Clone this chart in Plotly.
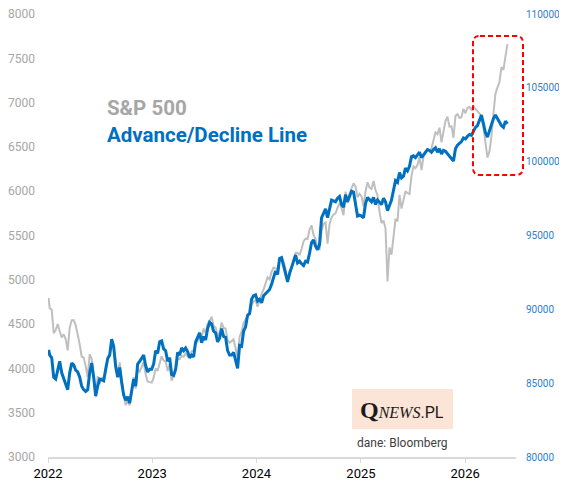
import plotly.graph_objects as go
import pandas as pd

# S&P 500 weekly closes (Friday), first point = 2022-01-03
spx_start = 4796
spx_2022 = [4677, 4663, 4398, 4432, 4501, 4419, 4349, 4385, 4329, 4204, 4463, 4543,
            4546, 4488, 4393, 4272, 4132, 4123, 4024, 3901, 4158, 4109, 3901, 3675,
            3912, 3825, 3899, 3863, 3962, 4130, 4145, 4280, 4228, 4058, 3924, 4067,
            3873, 3693, 3586, 3640, 3583, 3753, 3901, 3771, 3993, 3965, 4026, 4072,
            3934, 3852, 3845, 3840]
spx_2023 = [3895, 3999, 3973, 4071, 4136, 4090, 4079, 3970, 4046, 3862, 3917, 3971,
            4109, 4105, 4138, 4133, 4169, 4136, 4124, 4192, 4205, 4282, 4299, 4410,
            4348, 4450, 4399, 4505, 4536, 4582, 4478, 4464, 4370, 4406, 4516, 4457,
            4450, 4320, 4288, 4309, 4327, 4224, 4117, 4358, 4415, 4514, 4559, 4595,
            4604, 4719, 4755, 4770]
spx_2024 = [4697, 4784, 4840, 4891, 4959, 5027, 5006, 5089, 5137, 5124, 5117, 5234,
            5254, 5204, 5123, 4967, 5100, 5128, 5223, 5303, 5305, 5278, 5347, 5432,
            5465, 5460, 5567, 5615, 5505, 5459, 5346, 5344, 5554, 5634, 5648, 5408,
            5626, 5703, 5738, 5751, 5815, 5864, 5808, 5729, 5995, 5870, 5969, 6032,
            6090, 6051, 5931, 5971]
spx_2025 = [5942, 5827, 5997, 6101, 6041, 6026, 6115, 6013, 5955, 5770, 5639, 5668,
            5581, 4982, 5363, 5283, 5525, 5687, 5660, 5958, 5803, 5912, 6000, 5977,
            5968, 6173, 6280, 6260, 6297, 6389, 6238, 6389, 6450, 6467, 6460, 6482,
            6584, 6664, 6644, 6716, 6553, 6664, 6792, 6840, 6729, 6734, 6603, 6849,
            6870, 6827, 6834, 6930]
spx_2026 = [6880, 6940, 6950, 6920, 6960, 6930, 6900, 6880, 6850, 6720, 6560, 6380,
            6450, 6620, 6880, 7100, 7170, 7230, 7400, 7370, 7520, 7660]

# Advance/Decline line, same weeks (right axis)
ad_start = 87250
ad_2022 = [86900, 86720, 85400, 85280, 86000, 86480, 85700, 85280, 84920, 84560, 85700, 86360,
           86240, 85880, 85760, 85400, 84800, 84560, 84440, 84560, 85700, 86360, 85400, 84140,
           84800, 85280, 85220, 85160, 85940, 86660, 86900, 87980, 87500, 86120, 85400, 86060,
           85040, 84200, 83840, 84080, 83660, 84560, 85280, 84800, 86300, 86480, 86720, 86900,
           86180, 85760, 85940, 85940]
ad_2023 = [86300, 87200, 87020, 87800, 87860, 87320, 87200, 86480, 86720, 85580, 85520, 85940,
           87080, 86900, 87380, 87200, 87380, 87140, 86720, 86900, 86780, 87800, 88100, 88400,
           87740, 88160, 87920, 88700, 89120, 89000, 88520, 88400, 87800, 88040, 88700, 88160,
           88100, 87200, 86900, 86900, 87080, 86480, 86000, 87560, 87500, 88520, 88820, 89600,
           89720, 90680, 90920, 90980]
ad_2024 = [90560, 90680, 90440, 90920, 91040, 91160, 91340, 91700, 92120, 92600, 92360, 93440,
           93500, 92900, 92360, 91880, 92420, 92900, 93320, 93680, 93140, 93260, 93080, 92960,
           93260, 93200, 93800, 94520, 94700, 94280, 94040, 94400, 96200, 96560, 96800, 96200,
           96920, 97400, 97340, 97280, 97520, 97640, 97100, 96920, 97760, 97280, 97640, 98000,
           97940, 97160, 96320, 96380]
ad_2025 = [96320, 96200, 97160, 97580, 97400, 97280, 97580, 97100, 97400, 97220, 97100, 97520,
           97280, 96680, 97100, 97400, 98060, 98720, 98600, 99260, 98900, 99020, 99560, 99380,
           99680, 100340, 100400, 100280, 100460, 100640, 100280, 100460, 100700, 100820, 100760, 100640,
           100820, 100940, 100640, 100880, 100520, 100760, 100700, 100520, 100400, 100220, 100040, 100880,
           101120, 101240, 101360, 101600]
ad_2026 = [101540, 101720, 101840, 101780, 102080, 102320, 102440, 102800, 103150, 102560, 101960, 101660,
           102080, 102560, 102920, 103160, 102860, 102680, 102440, 102320, 102740, 102560]

left_ticks = list(range(3000, 8001, 500))
right_ticks = list(range(80000, 110001, 5000))
year_ticks = ["2022-01-01", "2023-01-01", "2024-01-01", "2025-01-01", "2026-01-01"]
year_labels = ["2022", "2023", "2024", "2025", "2026"]

# weekly dates
dates = [pd.Timestamp("2022-01-03")]
for y in [2022, 2023, 2024, 2025]:
    dates += list(pd.date_range(f"{y}-01-01", f"{y}-12-31", freq="W-FRI"))
dates += list(pd.date_range("2026-01-01", "2026-05-29", freq="W-FRI"))

spx = [spx_start] + spx_2022 + spx_2023 + spx_2024 + spx_2025 + spx_2026
ad = [ad_start] + ad_2022 + ad_2023 + ad_2024 + ad_2025 + ad_2026
n = min(len(dates), len(spx), len(ad))

FONT = "Roboto"
GRAY = "#bfbfbf"
BLUE = "#0070c0"

fig = go.Figure()

fig.add_trace(go.Scatter(
    x=dates[:n], y=spx[:n], mode="lines", name="S&P 500",
    line=dict(color=GRAY, width=2), yaxis="y"
))
fig.add_trace(go.Scatter(
    x=dates[:n], y=ad[:n], mode="lines", name="Advance/Decline Line",
    line=dict(color=BLUE, width=3), yaxis="y2"
))

# page has an 8px body margin -> figure is 559x485, plot area on screen x 48..516, y 14..457
W, H = 559, 485
L, R, T, B = 40, 51, 6, 36
pw, ph = W - L - R, H - T - B

def px(x):
    return (x - 48) / pw

def py(y):
    return (457 - y) / ph

# red dashed rounded box (paper coords)
x0, x1, y0, y1 = px(473), px(523), py(175), py(36)
rx, ry = 7 / pw, 7 / ph
box_path = (f"M {x0+rx},{y1} L {x1-rx},{y1} Q {x1},{y1} {x1},{y1-ry} "
            f"L {x1},{y0+ry} Q {x1},{y0} {x1-rx},{y0} "
            f"L {x0+rx},{y0} Q {x0},{y0} {x0},{y0+ry} "
            f"L {x0},{y1-ry} Q {x0},{y1} {x0+rx},{y1} Z")

fig.update_layout(
    width=W, height=H,
    margin=dict(l=L, r=R, t=T, b=B, autoexpand=False),
    paper_bgcolor="white",
    plot_bgcolor="white",
    showlegend=False,
    font=dict(family=FONT),
    xaxis=dict(
        type="date", automargin=False,
        range=["2022-01-01", "2026-06-28"],
        tickvals=year_ticks, ticktext=year_labels,
        tickfont=dict(size=13, color="#000000"),
        showgrid=False, zeroline=False,
        showline=True, linecolor="#d9d9d9", linewidth=1.5,
        ticks="outside", ticklen=4, tickcolor="#d9d9d9",
    ),
    yaxis=dict(
        range=[3000, 8000], tickvals=left_ticks, automargin=False,
        tickfont=dict(size=12, color="#a6a6a6"),
        showgrid=False, zeroline=False, showline=False,
        ticklabelstandoff=12, ticklabeloverflow="allow",
    ),
    yaxis2=dict(
        range=[80000, 110000], tickvals=right_ticks, tickformat="d",
        overlaying="y", side="right", automargin=False,
        tickfont=dict(size=10, color="#2f80c8"),
        showgrid=False, zeroline=False, showline=False,
        ticklabelstandoff=9, ticklabeloverflow="allow",
    ),
    shapes=[
        dict(type="path", xref="paper", yref="paper", path=box_path,
             line=dict(color="#ff0000", width=2, dash="5px,3px"),
             fillcolor="rgba(0,0,0,0)", layer="above"),
        dict(type="rect", xref="paper", yref="paper",
             x0=px(352), x1=px(453), y0=py(429), y1=py(389),
             fillcolor="#fce4d6", line=dict(width=0), layer="below"),
    ],
    annotations=[
        dict(text="<b>S&P 500</b>", xref="paper", yref="paper",
             x=px(105), y=py(108), xanchor="left", yanchor="middle",
             showarrow=False, font=dict(size=20.5, color="#a6a6a6", family=FONT)),
        dict(text="<b>Advance/Decline Line</b>", xref="paper", yref="paper",
             x=px(105), y=py(135), xanchor="left", yanchor="middle",
             showarrow=False, font=dict(size=20.5, color=BLUE, family=FONT)),
        dict(text="<span style='font-family:Liberation Serif;font-size:24px'><b>Q</b></span>"
                  "<span style='font-family:Liberation Serif;font-size:16px'><i>NEWS</i></span>"
                  "<span style='font-size:16px'>.PL</span>",
             xref="paper", yref="paper", x=px(402), y=py(410),
             xanchor="center", yanchor="middle", showarrow=False,
             font=dict(size=16, color="#1a1a1a", family=FONT)),
        dict(text="dane: Bloomberg", xref="paper", yref="paper",
             x=px(402), y=py(443), xanchor="center", yanchor="middle",
             showarrow=False, font=dict(size=12, color="#404040", family=FONT)),
    ],
)

fig.write_html("out.html")
